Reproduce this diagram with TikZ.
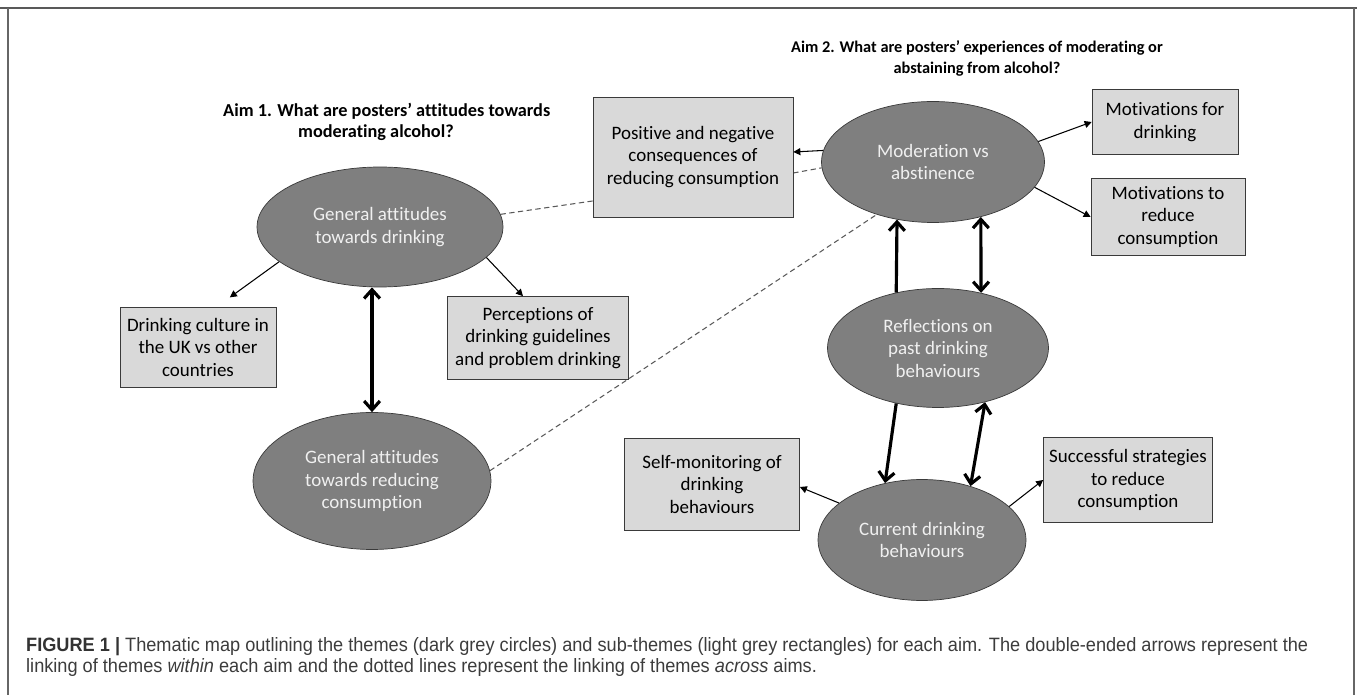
\documentclass[tikz,border=0pt]{standalone}
\usepackage{fontspec}
\setmainfont[Ligatures=NoCommon]{Carlito}
\newfontfamily\capfont[FakeStretch=0.94]{Liberation Sans}
\usetikzlibrary{arrows.meta,shapes.geometric,backgrounds}
\definecolor{themegrey}{HTML}{7F7F7F}
\definecolor{subgrey}{HTML}{D9D9D9}
\definecolor{edgegrey}{HTML}{3A3A3A}
\definecolor{capgrey}{HTML}{3C3C3C}
\begin{document}
\begin{tikzpicture}[x=0.02cm,y=-0.02cm,
theme/.style={ellipse,draw=edgegrey,fill=themegrey,text=white!94!black,align=center,inner sep=0pt,font=\fontsize{10.8}{12.8}\selectfont},
sub/.style={rectangle,draw=edgegrey,fill=subgrey,align=center,inner sep=0pt,font=\fontsize{10.8}{12.8}\selectfont},
aim/.style={font=\bfseries\fontsize{10.4}{12.2}\selectfont},
link/.style={-{Triangle[length=4pt,width=4pt]},line width=0.6pt},
within/.style={line width=1.8pt,arrows={Straight Barb[length=5pt,width=9pt]-Straight Barb[length=5pt,width=9pt]}},
toward/.style={line width=1.8pt,-{Straight Barb[length=5pt,width=9pt]}},
across/.style={draw=black!65,line width=0.6pt,dash pattern=on 3pt off 2pt}]
\useasboundingbox (0,0) rectangle (1357,695);
% frame
\draw[black!65,line width=1.4pt] (0,8) -- (1357,8);
\draw[black!60,line width=0.9pt] (8,8) -- (8,695);
\draw[black!60,line width=0.9pt] (1354,8) -- (1354,695);
% aims
\node[aim,anchor=west,align=left] (aim1) at (217,122) {Aim 1. What are posters' attitudes towards\\\hspace*{1.5cm}moderating alcohol?};
\node[aim,align=center,font=\bfseries\fontsize{9.3}{12}\selectfont] (aim2) at (977,58) {Aim 2. What are posters' experiences of moderating or\\abstaining from alcohol?};
% themes
\node[theme,minimum width=4.92cm,minimum height=2.40cm] (gdrink) at (380,227) {General attitudes\\towards drinking};
\node[theme,minimum width=4.76cm,minimum height=2.74cm] (greduce) at (372,481) {General attitudes\\towards reducing\\consumption};
\node[theme,minimum width=4.46cm,minimum height=2.42cm] (moder) at (933,162) {Moderation vs\\abstinence};
\node[theme,minimum width=4.42cm,minimum height=2.38cm] (reflect) at (938,348) {Reflections on\\past drinking\\behaviours};
\node[theme,minimum width=4.16cm,minimum height=2.42cm] (current) at (922,540) {Current drinking\\behaviours};
% sub-themes
\node[sub,minimum width=4.00cm,minimum height=2.40cm] (conseq) at (693,157) {Positive and negative\\consequences of\\reducing consumption};
\node[sub,minimum width=2.92cm,minimum height=1.30cm] (motdrink) at (1165,122) {Motivations for\\drinking};
\node[sub,minimum width=3.08cm,minimum height=1.54cm] (motreduce) at (1168,217) {Motivations to\\reduce\\consumption};
\node[sub,minimum width=3.12cm,minimum height=1.60cm] (culture) at (198,347) {Drinking culture in\\the UK vs other\\countries};
\node[sub,minimum width=3.62cm,minimum height=1.66cm] (percept) at (538,338) {Perceptions of\\drinking guidelines\\and problem drinking};
\node[sub,minimum width=3.50cm,minimum height=1.84cm] (selfmon) at (712,484) {Self-monitoring of\\drinking\\behaviours};
\node[sub,minimum width=3.38cm,minimum height=1.70cm] (strategy) at (1128,480) {Successful strategies\\to reduce\\consumption};
% links across aims
\begin{scope}[on background layer]
\draw[across] (gdrink.6) -- ([yshift=-0.88cm]conseq.west);
\draw[across] ([yshift=-0.32cm]conseq.east) -- (moder.183);
\draw[across] (greduce.5) -- (moder.223);
\end{scope}
% theme to sub-theme
\draw[link,shorten >=9pt] (gdrink.199) -- ([xshift=0.38cm]culture.north);
\draw[link] (gdrink.344) -- ([xshift=-0.3cm]percept.north);
\draw[link] (moder.174) -- ([yshift=0.1cm]conseq.east);
\draw[link] (moder.11) -- (motdrink.west);
\draw[link] (moder.346) -- (motreduce.west);
\draw[link] (current.156) -- ([yshift=-0.06cm]selfmon.east);
\draw[link] (current.21) -- (strategy.west);
% links within aims
\draw[within] (gdrink.south -| greduce.north) -- (greduce.north);
\draw[toward] (reflect.127) -- (moder.238);
\draw[within] (moder.311) -- (reflect.52);
\draw[toward] (reflect.233) -- (current.123);
\draw[within] (reflect.311) -- (current.48);
% caption
\node[anchor=west,align=left,text=capgrey,font=\capfont\fontsize{11}{11.4}\selectfont] (caption) at (20,657) {{\bfseries\color{black!80}FIGURE 1 |} Thematic map outlining the themes (dark grey circles) and sub-themes (light grey rectangles) for each aim. The double-ended arrows represent the\\linking of themes \emph{within} each aim and the dotted lines represent the linking of themes \emph{across} aims.};
\end{tikzpicture}
\end{document}
